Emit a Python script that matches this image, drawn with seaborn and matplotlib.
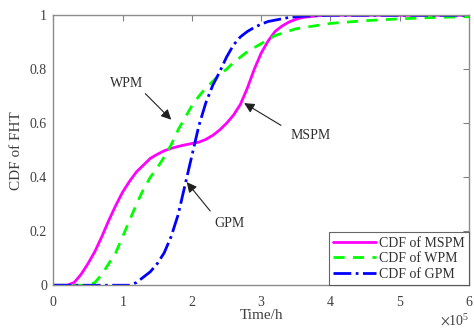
import pandas as pd
import matplotlib
matplotlib.use('Agg')
import matplotlib.pyplot as plt
import matplotlib.ticker as mticker
import seaborn as sns

# data (time in units of 1e5 h)
mspm_t = [0, 0.2, 0.3, 0.4, 0.5, 0.6, 0.7, 0.8, 0.9, 1.0, 1.1, 1.2, 1.3, 1.4, 1.5, 1.6, 1.7, 1.8, 1.9, 2.0,
          2.1, 2.2, 2.3, 2.4, 2.5, 2.6, 2.7, 2.8, 2.9, 3.0, 3.1, 3.2, 3.3, 3.4, 3.5, 3.6, 3.8, 4.0, 6.0]
mspm_cdf = [0, 0, 0.01, 0.04, 0.08, 0.125, 0.18, 0.24, 0.295, 0.345, 0.385, 0.42, 0.445, 0.47, 0.485, 0.498, 0.507, 0.514, 0.52, 0.525,
            0.53, 0.54, 0.555, 0.575, 0.60, 0.63, 0.67, 0.73, 0.80, 0.86, 0.905, 0.94, 0.96, 0.975, 0.985, 0.992, 0.998, 1.0, 1.0]

wpm_t = [0, 0.5, 0.6, 0.7, 0.8, 0.9, 1.0, 1.1, 1.2, 1.3, 1.4, 1.5, 1.6, 1.7, 1.8, 1.9, 2.0, 2.1, 2.2, 2.3,
         2.4, 2.5, 2.6, 2.7, 2.8, 2.9, 3.0, 3.2, 3.5, 4.0, 4.5, 5.0, 5.5, 6.0]
wpm_cdf = [0, 0, 0.01, 0.04, 0.08, 0.12, 0.18, 0.24, 0.30, 0.355, 0.40, 0.435, 0.475, 0.52, 0.575, 0.62, 0.665, 0.70, 0.73, 0.755,
           0.78, 0.80, 0.825, 0.845, 0.865, 0.88, 0.895, 0.925, 0.95, 0.97, 0.98, 0.987, 0.992, 0.995]

gpm_t = [0, 1.1, 1.2, 1.3, 1.4, 1.5, 1.6, 1.7, 1.8, 1.9, 2.0, 2.1, 2.2, 2.3, 2.4, 2.5, 2.6, 2.7, 2.8, 2.9,
         3.0, 3.1, 3.2, 3.4, 3.6, 4.0, 6.0]
gpm_cdf = [0, 0, 0.01, 0.03, 0.05, 0.08, 0.12, 0.18, 0.26, 0.37, 0.48, 0.59, 0.675, 0.74, 0.79, 0.845, 0.89, 0.92, 0.94, 0.955,
           0.967, 0.977, 0.982, 0.992, 0.997, 1.0, 1.0]

sns.set_style('white')
plt.rcParams['font.family'] = ['Liberation Serif', 'DejaVu Serif']
plt.rcParams['mathtext.fontset'] = 'stix'

fig = plt.figure(figsize=(4.74, 3.29), dpi=100)
ax = fig.add_axes([0.1125, 0.133, 0.877, 0.8205])

sns.lineplot(x=[t * 1e5 for t in mspm_t], y=mspm_cdf, ax=ax, color='#ff00ff', lw=2, label='CDF of MSPM')
sns.lineplot(x=[t * 1e5 for t in wpm_t], y=wpm_cdf, ax=ax, color='#00ff00', lw=2, dashes=(4, 3), label='CDF of WPM')
sns.lineplot(x=[t * 1e5 for t in gpm_t], y=gpm_cdf, ax=ax, color='#0000ff', lw=2, label='CDF of GPM')
ax.lines[2].set_linestyle('-.')

ax.set_xlim(0, 6e5)
ax.set_ylim(0, 1)
ax.set_yticks([0, 0.2, 0.4, 0.6, 0.8, 1])
ax.set_yticklabels(['0', '0.2', '0.4', '0.6', '0.8', '1'])
fmt = mticker.ScalarFormatter(useMathText=True)
fmt.set_powerlimits((0, 0))
ax.xaxis.set_major_formatter(fmt)
ax.xaxis.get_offset_text().set_fontsize(10)
ax.xaxis.get_offset_text().set_color('#404040')

ax.tick_params(direction='in', top=True, right=True, length=4, color='#808080',
               labelsize=10, labelcolor='#404040')
ax.tick_params(axis='x', pad=7)
ax.tick_params(axis='y', pad=4.5)
for s in ax.spines.values():
    s.set_color('#8c8c8c')
    s.set_linewidth(1)

ax.set_xlabel('Time/h', fontsize=11, color='#404040', labelpad=0)
ax.set_ylabel('CDF of FHT', fontsize=11, color='#404040', labelpad=5)

arrow = dict(arrowstyle='-|>', color='#202020', lw=0.8, mutation_scale=15)
ax.annotate('', xy=(1.73e5, 0.606), xytext=(1.30e5, 0.717), arrowprops=arrow)
ax.text(1.06e5, 0.748, 'WPM', fontsize=10, ha='center', va='center', color='#303030')
ax.annotate('', xy=(2.72e5, 0.68), xytext=(3.32e5, 0.587), arrowprops=arrow)
ax.text(3.71e5, 0.553, 'MSPM', fontsize=10, ha='center', va='center', color='#303030')
ax.annotate('', xy=(1.90e5, 0.39), xytext=(2.29e5, 0.267), arrowprops=arrow)
ax.text(2.55e5, 0.23, 'GPM', fontsize=10, ha='center', va='center', color='#303030')

leg = ax.legend(loc='lower right', fontsize=10, frameon=True, fancybox=False, borderaxespad=0,
                handlelength=3.1, borderpad=0.3, labelspacing=0.2, handletextpad=0.2)
leg.get_frame().set_edgecolor('#404040')
leg.get_frame().set_linewidth(0.8)
for t in leg.get_texts():
    t.set_color('#303030')

fig.savefig('out.png', dpi=100)
